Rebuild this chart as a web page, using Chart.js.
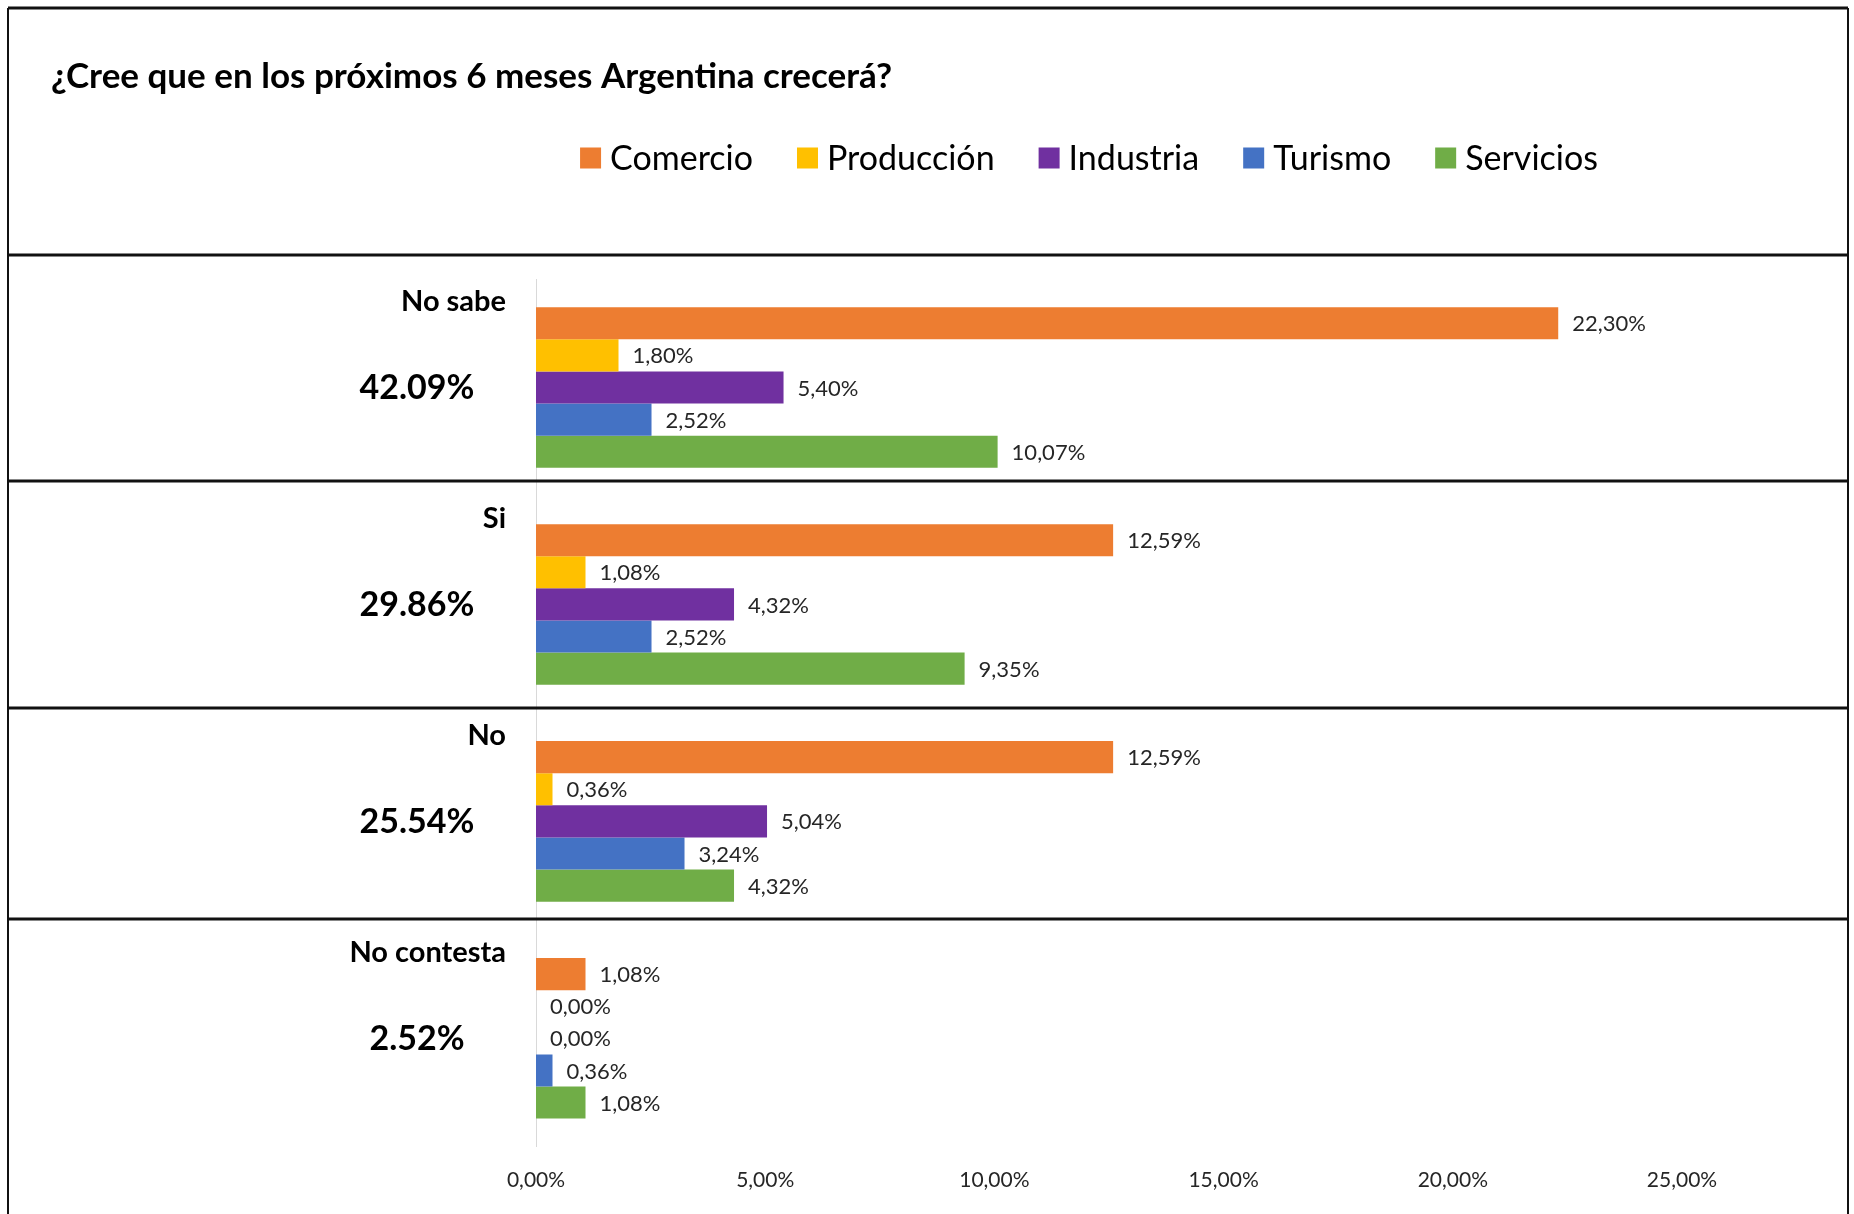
<!DOCTYPE html>
<html>
<head>
<meta charset="utf-8">
<script src="https://cdn.jsdelivr.net/npm/chart.js@4.4.0/dist/chart.umd.min.js"></script>
<style>
  html, body { margin: 0; padding: 0; background: #fff; }
  #wrap { width: 1854px; height: 1214px; position: relative; }
</style>
</head>
<body>
<div id="wrap"><canvas id="myChart"></canvas></div>
<script>
// data
const title = "¿Cree que en los próximos 6 meses Argentina crecerá?";
const categories = ["No sabe", "Si", "No", "No contesta"];
const totals = ["42.09%", "29.86%", "25.54%", "2.52%"];
const seriesNames = ["Comercio", "Producción", "Industria", "Turismo", "Servicios"];
const comercio = [22.30, 12.59, 12.59, 1.08];
const produccion = [1.80, 1.08, 0.36, 0.00];
const industria = [5.40, 4.32, 5.04, 0.00];
const turismo = [2.52, 2.52, 3.24, 0.36];
const servicios = [10.07, 9.35, 4.32, 1.08];
const xTicks = [0, 5, 10, 15, 20, 25];

const colors = ["#ED7D31", "#FFC000", "#7030A0", "#4472C4", "#70AD47"];
const FONT = "Lato";

const fmt = v => Number(v).toFixed(2).replace(".", ",") + "%";

const decor = {
  id: "decor",
  afterDraw(chart) {
    const ctx = chart.ctx;
    const yScale = chart.scales.y;
    ctx.save();

    // frame lines (slide boxes)
    ctx.strokeStyle = "#111";
    ctx.lineWidth = 2;
    ctx.beginPath();
    ctx.moveTo(8, 8); ctx.lineTo(8, 1214);
    ctx.moveTo(1848, 8); ctx.lineTo(1848, 1214);
    ctx.stroke();
    ctx.lineWidth = 3;
    ctx.beginPath();
    [8, 255, 481, 708, 919].forEach(y => { ctx.moveTo(8, y); ctx.lineTo(1848, y); });
    ctx.stroke();

    // title
    ctx.fillStyle = "#000";
    ctx.font = "bold 35px " + FONT;
    ctx.textAlign = "left";
    ctx.textBaseline = "middle";
    ctx.fillText(title, 51, 77);

    // legend
    ctx.font = "34px " + FONT;
    const box = 21, gap = 9, between = 44;
    const widths = seriesNames.map(n => ctx.measureText(n).width);
    const total = widths.reduce((a, w) => a + box + gap + w, 0) + between * (seriesNames.length - 1);
    let x = 1089 - total / 2;
    seriesNames.forEach((n, i) => {
      ctx.fillStyle = colors[i];
      ctx.fillRect(x, 158 - box / 2, box, box);
      ctx.fillStyle = "#000";
      ctx.fillText(n, x + box + gap, 159);
      x += box + gap + widths[i] + between;
    });

    // category names and totals
    categories.forEach((c, i) => {
      const cy = yScale.getPixelForValue(i);
      ctx.fillStyle = "#000";
      ctx.font = "bold 29px " + FONT;
      ctx.textAlign = "right";
      ctx.fillText(c, 506, cy - 86);
      ctx.font = "bold 34px " + FONT;
      ctx.textAlign = "center";
      ctx.fillText(totals[i], 417, cy + 1);
    });

    // value labels at bar ends
    ctx.font = "22px " + FONT;
    ctx.textAlign = "left";
    ctx.fillStyle = "#262626";
    chart.data.datasets.forEach((ds, di) => {
      chart.getDatasetMeta(di).data.forEach((bar, i) => {
        ctx.fillText(fmt(ds.data[i]), bar.x + 14, bar.y + 1);
      });
    });
    ctx.restore();
  }
};

const series = [comercio, produccion, industria, turismo, servicios];

const data = {
  labels: categories,
  datasets: series.map((vals, i) => ({
    label: seriesNames[i],
    data: vals,
    backgroundColor: colors[i],
    borderWidth: 0,
    categoryPercentage: 0.74,
    barPercentage: 1.0
  }))
};

const options = {
  responsive: true,
  maintainAspectRatio: false,
  animation: false,
  indexAxis: "y",
  layout: { padding: { left: 536, right: 172, top: 279, bottom: 0 } },
  plugins: {
    legend: { display: false },
    tooltip: { enabled: false }
  },
  scales: {
    x: {
      min: 0,
      max: 25,
      afterBuildTicks: axis => { axis.ticks = xTicks.map(v => ({ value: v })); },
      grid: { display: false, drawTicks: false },
      border: { display: false },
      ticks: {
        padding: 21,
        color: "#262626",
        font: { family: FONT, size: 21 },
        callback: v => fmt(v)
      }
    },
    y: {
      grid: { display: false, drawTicks: false },
      border: { color: "#d9d9d9", width: 1 },
      ticks: { display: false }
    }
  }
};

const myChart = new Chart(document.getElementById("myChart").getContext("2d"), {
  type: "bar",
  data: data,
  options: options,
  plugins: [decor]
});
</script>
</body>
</html>
